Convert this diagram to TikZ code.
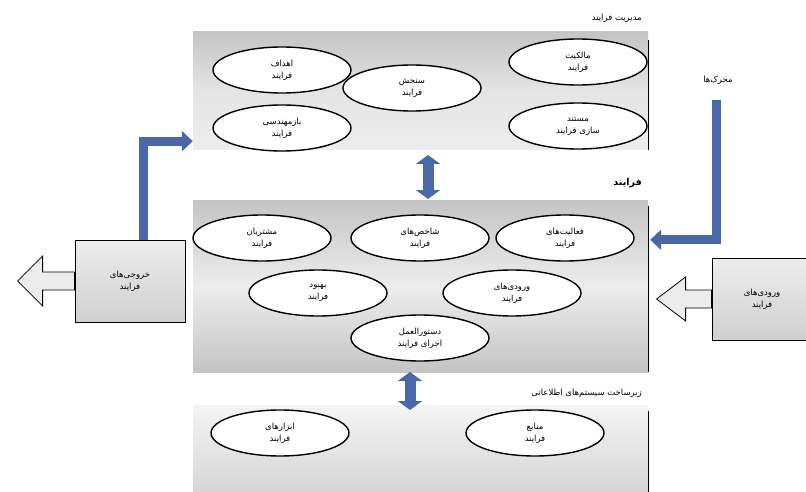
\documentclass[tikz,border=0pt]{standalone}
\usepackage{fontspec}
\usetikzlibrary{arrows.meta,shapes.geometric,calc}
\TeXXeTstate=1
\newfontfamily\arabicfont[Script=Arabic]{DejaVu Sans}
\newcommand\fa[1]{{\arabicfont\beginR #1\endR}}
\definecolor{flowblue}{HTML}{4A67A8}
\definecolor{bandgray}{HTML}{C4C4C4}
\definecolor{bandlight}{HTML}{EDEDED}
\tikzset{
  band/.style={inner sep=0pt, top color=bandgray, bottom color=bandlight, middle color=bandlight!80!bandgray},
  oval/.style={ellipse, draw=black, line width=1.4pt, fill=white, minimum width=138pt, minimum height=46pt,
    inner sep=0pt, align=center, font=\fontsize{8.5}{12}\selectfont},
  sidebox/.style={draw=black, line width=0.8pt, top color=bandlight, bottom color=bandgray!80, inner sep=0pt,
    align=center, font=\fontsize{8.5}{12}\selectfont},
  flow/.style={draw=flowblue, line width=9pt, line join=miter, -{Triangle[width=20pt,length=11pt]}},
  twoway/.style={draw=flowblue, line width=11pt, {Triangle[width=24pt,length=9pt]}-{Triangle[width=24pt,length=9pt]}},
  hollow/.style={draw=black, line width=0.8pt, fill=gray!15},
  edge/.style={draw=black, line width=1.2pt},
  caption/.style={font=\fontsize{8.5}{10}\selectfont, anchor=east, inner sep=0pt}
}
\begin{document}
\begin{tikzpicture}[x=1pt,y=-1pt]
\useasboundingbox (0,0) rectangle (806,492);

% three horizontal bands
\node[band, minimum width=455pt, minimum height=118pt] (topband) at (420.5,91) {};
\node[band, minimum width=455pt, minimum height=172pt, top color=bandgray, bottom color=bandgray, middle color=bandlight] (midband) at (420.5,286) {};
\node[band, minimum width=455pt, minimum height=87pt, top color=bandlight!60!white, bottom color=bandgray!70] (lowband) at (420.5,449) {};

\draw[edge] ($(topband.north east)+(0,8)$) -- (topband.south east);
\draw[edge] ($(midband.north east)+(0,6)$) -- (midband.south east);
\draw[edge] ($(lowband.north east)+(0,6)$) -- (lowband.south east);

% band titles
\node[caption] (toptitle) at (642,18) {\fa{مدیریت فرایند}};
\node[caption, font=\fontsize{9.5}{10}\selectfont\bfseries] (midtitle) at (642,183) {\fa{فرایند}};
\node[caption] (lowtitle) at (642,393) {\fa{زیرساخت سیستم‌های اطلاعاتی}};

% top band ovals
\node[oval] (o1) at (282,70)  {\fa{اهداف}\\\fa{فرایند}};
\node[oval] (o2) at (412,88)  {\fa{سنجش}\\\fa{فرایند}};
\node[oval] (o3) at (578,62)  {\fa{مالکیت}\\\fa{فرایند}};
\node[oval] (o4) at (282,128) {\fa{بازمهندسی}\\\fa{فرایند}};
\node[oval] (o5) at (578,126) {\fa{مستند}\\\fa{سازی فرایند}};

% middle band ovals
\node[oval] (m1) at (262,238) {\fa{مشتریان}\\\fa{فرایند}};
\node[oval] (m2) at (420,238) {\fa{شاخص‌های}\\\fa{فرایند}};
\node[oval] (m3) at (565,238) {\fa{فعالیت‌های}\\\fa{فرایند}};
\node[oval] (m4) at (318,293) {\fa{بهبود}\\\fa{فرایند}};
\node[oval] (m5) at (512,293) {\fa{ورودی‌های}\\\fa{فرایند}};
\node[oval] (m6) at (420,338) {\fa{دستورالعمل}\\\fa{اجرای فرایند}};

% lower band ovals
\node[oval] (l1) at (280,433) {\fa{ابزارهای}\\\fa{فرایند}};
\node[oval] (l2) at (535,433) {\fa{منابع}\\\fa{فرایند}};

% two-way links between bands
\coordinate (ua) at (428,155);
\coordinate (ub) at (428,199);
\draw[twoway] (ua) -- (ub);
\coordinate (la) at (410,372);
\coordinate (lb) at (410,410);
\draw[twoway] (la) -- (lb);

% side boxes
\node[sidebox, minimum width=110pt, minimum height=82pt] (outbox) at (130,281) {\fa{خروجی‌های}\\\fa{فرایند}};
\node[sidebox, minimum width=100pt, minimum height=82pt] (inbox) at (762,299) {\fa{ورودی‌های}\\\fa{فرایند}};

% hollow arrows leaving the side boxes
\draw[hollow] ($(outbox.west)+(0,-9)$) -- ++(-32,0) -- ++(0,-16) -- ++(-25,25) -- ++(25,25) -- ++(0,-16) -- ++(32,0) -- cycle;
\draw[hollow] ($(inbox.west)+(0,-9)$) -- ++(-26,0) -- ++(0,-13) -- ++(-29,22) -- ++(29,22) -- ++(0,-13) -- ++(26,0) -- cycle;

% outputs feed back into the management band
\coordinate (outup) at ($(outbox.north)+(13,0)$);
\draw[flow] (outup) |- ($(topband.south west)+(0,-9)$);

% drivers enter the process band
\node[caption, anchor=center] (drivers) at (718,80) {\fa{محرک‌ها}};
\coordinate (drvtop) at (716,100);
\draw[flow] (drvtop) |- ($(midband.north east)+(2,40)$);
\end{tikzpicture}
\end{document}
